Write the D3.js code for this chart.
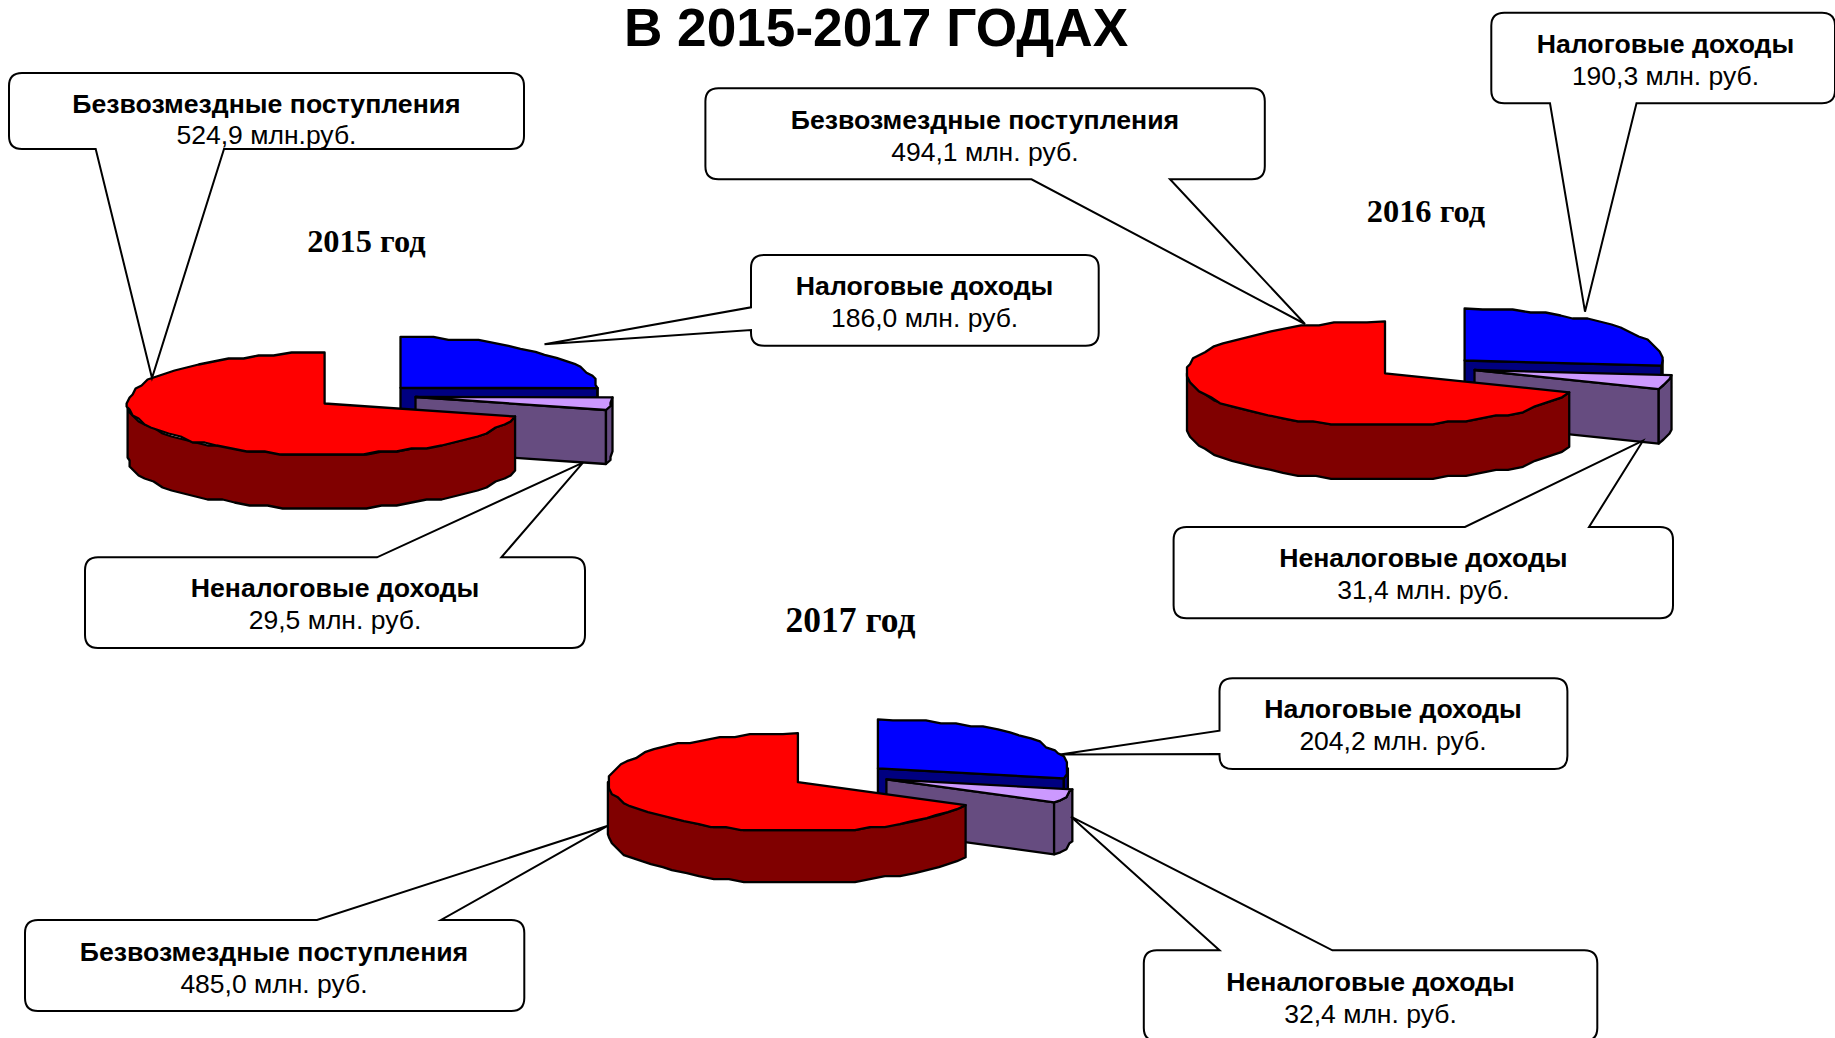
<!DOCTYPE html>
<html><head><meta charset="utf-8">
<style>html,body{margin:0;padding:0;background:#fff;overflow:hidden}svg{display:block}</style>
<script src="https://cdn.jsdelivr.net/npm/d3@7/dist/d3.min.js"></script>
</head><body><svg id="c" width="1835" height="1038"></svg>
<script>
// ---- data ----
const titleText = "В 2015-2017 ГОДАХ";
const categories = ["Налоговые доходы", "Неналоговые доходы", "Безвозмездные поступления"];
const yearLabels = ["2015 год", "2016 год", "2017 год"];
const values2015 = [186.0, 29.5, 524.9];
const values2016 = [190.3, 31.4, 494.1];
const values2017 = [204.2, 32.4, 485.0];
const valueLabels2015 = ["186,0 млн. руб.", "29,5 млн. руб.", "524,9 млн.руб."];
const valueLabels2016 = ["190,3 млн. руб.", "31,4 млн. руб.", "494,1 млн. руб."];
const valueLabels2017 = ["204,2 млн. руб.", "32,4 млн. руб.", "485,0 млн. руб."];

// ---- style ----
const topColors  = ["#0000ff", "#cc99ff", "#ff0000"];
const sideColors = ["#000080", "#664c80", "#800000"];

// ---- layout (one entry per year, slices: tax, non-tax, grants) ----
const pieLayouts = [
  {rx:197, ry:51, depth:54, centers:[[400.5,387.8],[415.5,397],[324.6,403.5]], year:[366.4,252], yearSize:32.4},
  {rx:198, ry:52, depth:54.5, centers:[[1464.6,360.5],[1474.5,370],[1385,373.3]], year:[1426,222.3], yearSize:32.4},
  {rx:190, ry:49, depth:52, centers:[[877.9,768.3],[886.4,779.3],[797.9,782.2]], year:[850.5,632], yearSize:35.5}
];
// box: l,r,t,b ; pointer: side, two base positions, tip ; text: cx, baseline1, baseline2
const calloutLayouts = [
  [ {box:[751,1098.7,255,345.7], side:"left", base:[307.3,330], tip:[544.5,344.3], text:[924.6,295,327]},
    {box:[85,585,557.3,648], side:"top", base:[377,501.4], tip:[583,462.7], text:[335,596.7,629.3]},
    {box:[9,524,73,149], side:"bottom", base:[95.7,224], tip:[152,378], text:[266.5,112.7,144]} ],
  [ {box:[1491.3,1835,12.7,103.3], side:"bottom", base:[1550,1636.5], tip:[1585,311.7], text:[1665.5,52.7,85]},
    {box:[1173.6,1673,527,618.3], side:"top", base:[1465,1589], tip:[1643,440.7], text:[1423.4,566.7,599]},
    {box:[705.4,1264.8,88.3,179.3], side:"bottom", base:[1031.5,1170], tip:[1305,324], text:[984.9,129,161]} ],
  [ {box:[1219.5,1567.4,678.3,769], side:"left", base:[730.7,754], tip:[1060,754.5], text:[1393,718.3,750]},
    {box:[1143.8,1597.3,950.3,1041], side:"top", base:[1219.5,1332.4], tip:[1071,816.7], text:[1370.5,990.7,1022.7]},
    {box:[25,524.3,920,1011], side:"top", base:[317,441], tip:[608,825.7], text:[274,961,992.7]} ]
];

const allValues = [values2015, values2016, values2017];
const allLabels = [valueLabels2015, valueLabels2016, valueLabels2017];

const svg = d3.select("#c");
const pie = d3.pie().sort(null).value(d => d);
const STEP = 5 * Math.PI / 180, GRID = 3;
const line = d3.line().x(d => d[0]).y(d => d[1]);
const snap = v => Math.round(v / GRID) * GRID;   // coarse facets of the low-res rim

function arcPts(a0, a1) {
  const n = Math.max(1, Math.ceil((a1 - a0) / STEP));
  return d3.range(n + 1).map(i => a0 + (a1 - a0) * i / n);
}

allValues.forEach((vals, yi) => {
  const L = pieLayouts[yi];
  const g = svg.append("g");
  pie(vals).forEach((s, si) => {
    const [cx, cy] = L.centers[si];
    const px = a => cx + L.rx * Math.sin(a);
    const py = a => cy - L.ry * Math.cos(a);
    const rim = (as, dy) => as.map((a, i) => (i === 0 || i === as.length - 1)
      ? [px(a), py(a) + dy]
      : [cx + snap(L.rx * Math.sin(a)), cy + dy + snap(-L.ry * Math.cos(a))]);
    const sg = g.append("g").attr("stroke", "#000").attr("stroke-width", 2.3).attr("stroke-linejoin", "round");
    // cut face at the clockwise end of the wedge
    if (s.endAngle < 2 * Math.PI - 1e-6) {
      const e = s.endAngle;
      sg.append("path").attr("fill", sideColors[si])
        .attr("d", line([[cx, cy], [px(e), py(e)], [px(e), py(e) + L.depth], [cx, cy + L.depth]]) + "Z");
    }
    // outer wall: only the part facing the viewer
    const w0 = Math.max(s.startAngle, Math.PI / 2), w1 = Math.min(s.endAngle, 3 * Math.PI / 2);
    if (w1 > w0) {
      const as = arcPts(w0, w1);
      const pts = rim(as, 0).concat(rim(as, L.depth).reverse());
      sg.append("path").attr("fill", sideColors[si]).attr("d", line(pts) + "Z");
    }
    // top face
    const tp = [[cx, cy]].concat(rim(arcPts(s.startAngle, s.endAngle), 0));
    sg.append("path").attr("fill", topColors[si]).attr("d", line(tp) + "Z");
  });
  // year heading
  svg.append("text").attr("x", L.year[0]).attr("y", L.year[1]).attr("text-anchor", "middle")
    .attr("font-family", "'Liberation Serif'").attr("font-weight", "bold").attr("font-size", L.yearSize)
    .text(yearLabels[yi]);
});

function calloutPath(c) {
  const [l, r, t, b] = c.box, q = 13;
  const path = d3.path();
  path.moveTo(l + q, t);
  if (c.side === "top") { path.lineTo(c.base[0], t); path.lineTo(c.tip[0], c.tip[1]); path.lineTo(c.base[1], t); }
  path.lineTo(r - q, t);
  path.quadraticCurveTo(r, t, r, t + q);
  path.lineTo(r, b - q);
  path.quadraticCurveTo(r, b, r - q, b);
  if (c.side === "bottom") { path.lineTo(c.base[1], b); path.lineTo(c.tip[0], c.tip[1]); path.lineTo(c.base[0], b); }
  path.lineTo(l + q, b);
  path.quadraticCurveTo(l, b, l, b - q);
  if (c.side === "left") { path.lineTo(l, c.base[1]); path.lineTo(c.tip[0], c.tip[1]); path.lineTo(l, c.base[0]); }
  path.lineTo(l, t + q);
  path.quadraticCurveTo(l, t, l + q, t);
  path.closePath();
  return path.toString();
}

calloutLayouts.forEach((row, yi) => {
  row.forEach((c, si) => {
    const g = svg.append("g");
    g.append("path").attr("d", calloutPath(c)).attr("fill", "#fff").attr("stroke", "#000")
      .attr("stroke-width", 2).attr("stroke-linejoin", "miter");
    g.append("text").attr("x", c.text[0]).attr("y", c.text[1]).attr("text-anchor", "middle")
      .attr("font-family", "'Liberation Sans'").attr("font-weight", "bold").attr("font-size", 26.65)
      .text(categories[si]);
    g.append("text").attr("x", c.text[0]).attr("y", c.text[2]).attr("text-anchor", "middle")
      .attr("font-family", "'Liberation Sans'").attr("font-size", 26.5)
      .text(allLabels[yi][si]);
  });
});

svg.append("text").attr("x", 876).attr("y", 45.7).attr("text-anchor", "middle")
  .attr("font-family", "'Liberation Sans'").attr("font-weight", "bold").attr("font-size", 53.2)
  .text(titleText);
</script></body></html>
